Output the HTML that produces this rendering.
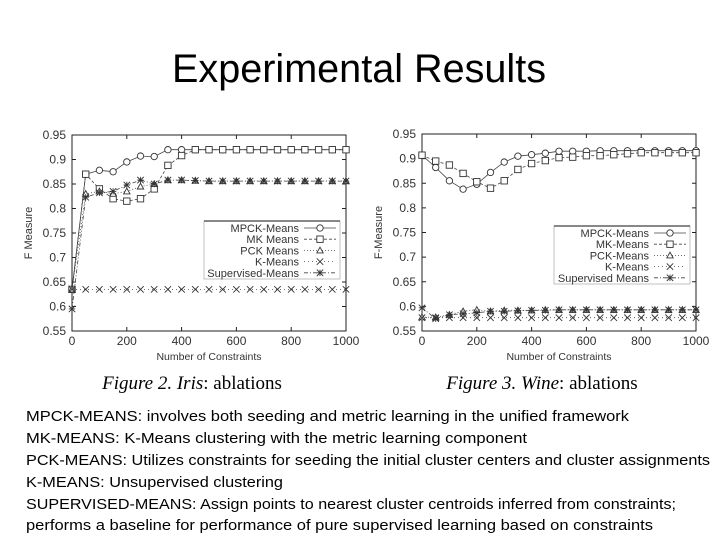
<!DOCTYPE html>
<html><head><meta charset="utf-8"><style>
html,body{margin:0;padding:0;background:#fff;}
svg{display:block;}
</style></head><body>
<svg id="root" width="720" height="540" viewBox="0 0 720 540" xmlns="http://www.w3.org/2000/svg">
<text x="359" y="82" text-anchor="middle" font-family="Liberation Sans, sans-serif" font-size="40" textLength="374" lengthAdjust="spacingAndGlyphs">Experimental Results</text>
<g id="c1"></g>
<g id="c2"></g>
<text x="192" y="389" text-anchor="middle" font-family="Liberation Serif, serif" font-size="19"><tspan font-style="italic">Figure 2. Iris</tspan>: ablations</text>
<text x="542" y="389" text-anchor="middle" font-family="Liberation Serif, serif" font-size="19"><tspan font-style="italic">Figure 3. Wine</tspan>: ablations</text>
<g font-family="Liberation Sans, sans-serif" font-size="15">
<text x="26" y="421" textLength="603" lengthAdjust="spacingAndGlyphs">MPCK-MEANS: involves both seeding and metric learning in the unified framework</text>
<text x="26" y="443" textLength="501" lengthAdjust="spacingAndGlyphs">MK-MEANS: K-Means clustering with the metric learning component</text>
<text x="26" y="465" textLength="684" lengthAdjust="spacingAndGlyphs">PCK-MEANS: Utilizes constraints for seeding the initial cluster centers and cluster assignments</text>
<text x="26" y="487" textLength="257" lengthAdjust="spacingAndGlyphs">K-MEANS:  Unsupervised clustering</text>
<text x="26" y="509" textLength="650" lengthAdjust="spacingAndGlyphs">SUPERVISED-MEANS:  Assign points to nearest cluster centroids inferred from constraints;</text>
<text x="26" y="530" textLength="627" lengthAdjust="spacingAndGlyphs">performs a baseline for performance of pure supervised learning based on constraints</text>
</g>
</svg>
<script>
const xValues = [0,50,100,150,200,250,300,350,400,450,500,550,600,650,700,750,800,850,900,950,1000];
const xTicks = [0,200,400,600,800,1000];
const yTicks = [0.55,0.6,0.65,0.7,0.75,0.8,0.85,0.9,0.95];
const yTickLabels = ["0.55","0.6","0.65","0.7","0.75","0.8","0.85","0.9","0.95"];
const seriesNames = ["MPCK-Means","MK Means","PCK Means","K-Means","Supervised-Means"];
const seriesNamesWine = ["MPCK-Means","MK-Means","PCK-Means","K-Means","Supervised Means"];
const irisMPCK = [0.635,0.87,0.878,0.875,0.895,0.907,0.906,0.92,0.92,0.92,0.92,0.92,0.92,0.92,0.92,0.92,0.92,0.92,0.92,0.92,0.92];
const irisMK = [0.635,0.87,0.84,0.82,0.815,0.82,0.84,0.888,0.908,0.92,0.92,0.92,0.92,0.92,0.92,0.92,0.92,0.92,0.92,0.92,0.92];
const irisPCK = [0.635,0.83,0.835,0.83,0.835,0.845,0.85,0.858,0.858,0.857,0.856,0.856,0.856,0.856,0.856,0.856,0.856,0.856,0.856,0.856,0.856];
const irisK = [0.635,0.635,0.635,0.635,0.635,0.635,0.635,0.635,0.635,0.635,0.635,0.635,0.635,0.635,0.635,0.635,0.635,0.635,0.635,0.635,0.635];
const irisSup = [0.595,0.823,0.832,0.835,0.848,0.858,0.85,0.858,0.858,0.857,0.856,0.856,0.856,0.856,0.856,0.856,0.856,0.856,0.856,0.856,0.856];
const wineMPCK = [0.907,0.882,0.855,0.838,0.848,0.872,0.893,0.905,0.908,0.911,0.915,0.915,0.915,0.916,0.916,0.916,0.916,0.916,0.916,0.916,0.916];
const wineMK = [0.907,0.895,0.887,0.87,0.853,0.84,0.855,0.878,0.89,0.896,0.902,0.903,0.906,0.906,0.908,0.91,0.912,0.912,0.912,0.912,0.912];
const winePCK = [0.578,0.578,0.583,0.59,0.593,0.59,0.592,0.592,0.592,0.593,0.593,0.593,0.593,0.593,0.593,0.593,0.593,0.593,0.593,0.593,0.593];
const wineK = [0.577,0.577,0.577,0.577,0.577,0.577,0.577,0.577,0.577,0.577,0.577,0.577,0.577,0.577,0.577,0.577,0.577,0.577,0.577,0.577,0.577];
const wineSup = [0.597,0.575,0.583,0.585,0.587,0.59,0.59,0.591,0.592,0.592,0.593,0.593,0.593,0.593,0.593,0.593,0.593,0.593,0.593,0.593,0.593];

const NS="http://www.w3.org/2000/svg";
function mk(tag,attrs,parent){const e=document.createElementNS(NS,tag);for(const k in attrs)e.setAttribute(k,attrs[k]);parent.appendChild(e);return e;}
const markers=["circle","square","triangle","x","star"];
const dashes=["","3,2","1,2","1,3","4,2,1,2"];
function marker(type,cx,cy,g){
  const s=3.2;let e;
  if(type==="circle"){e=mk("circle",{cx:cx,cy:cy,r:s,fill:"#fff",stroke:"#333","stroke-width":0.9},g);}
  else if(type==="square"){e=mk("rect",{x:cx-s,y:cy-s,width:2*s,height:2*s,fill:"#fff",stroke:"#333","stroke-width":0.9},g);}
  else if(type==="triangle"){e=mk("path",{d:`M${cx},${cy-s}L${cx+s},${cy+s*0.8}L${cx-s},${cy+s*0.8}Z`,fill:"#fff",stroke:"#333","stroke-width":0.9},g);}
  else if(type==="x"){e=mk("path",{d:`M${cx-s},${cy-s}L${cx+s},${cy+s}M${cx+s},${cy-s}L${cx-s},${cy+s}`,stroke:"#333","stroke-width":0.9,fill:"none"},g);}
  else {e=mk("path",{d:`M${cx-s},${cy-s}L${cx+s},${cy+s}M${cx+s},${cy-s}L${cx-s},${cy+s}M${cx},${cy-s}L${cx},${cy+s}M${cx-s},${cy}L${cx+s},${cy}`,stroke:"#333","stroke-width":0.9,fill:"none"},g);}
  return e;
}
function chart(gid,x0,x1,y0,y1,series,names,legend,ylabel){
  const g=document.getElementById(gid);
  const X=v=>x0+(v-0)/(1000-0)*(x1-x0);
  const Y=v=>y1-(v-0.55)/(0.95-0.55)*(y1-y0);
  const frame=mk("rect",{x:x0,y:y0,width:x1-x0,height:y1-y0,fill:"none",stroke:"#222","stroke-width":1},g);
  
  
  yTicks.forEach((t,i)=>{
    const y=Y(t);
    mk("line",{x1:x0,x2:x0+4,y1:y,y2:y,stroke:"#222"},g);
    mk("line",{x1:x1,x2:x1-4,y1:y,y2:y,stroke:"#222"},g);
    const tx=mk("text",{x:x0-6,y:y+4,"text-anchor":"end","font-family":"Liberation Sans, sans-serif","font-size":12,fill:"#333"},g);
    tx.textContent=yTickLabels[i];
    
    
  });
  xTicks.forEach(t=>{
    const x=X(t);
    mk("line",{x1:x,x2:x,y1:y1,y2:y1-4,stroke:"#222"},g);
    mk("line",{x1:x,x2:x,y1:y0,y2:y0+4,stroke:"#222"},g);
    const tx=mk("text",{x:x,y:y1+14,"text-anchor":"middle","font-family":"Liberation Sans, sans-serif","font-size":12,fill:"#333"},g);
    tx.textContent=String(t);
    
    
  });
  const xl=mk("text",{x:(x0+x1)/2,y:y1+29,"text-anchor":"middle","font-family":"Liberation Sans, sans-serif","font-size":10.5,fill:"#333"},g);
  xl.textContent="Number of Constraints";
  
  
  const yl=mk("text",{x:0,y:0,transform:`translate(${x0-40},${(y0+y1)/2}) rotate(-90)`,"text-anchor":"middle","font-family":"Liberation Sans, sans-serif","font-size":11,fill:"#333"},g);
  yl.textContent=ylabel;
  
  
  series.forEach((vals,si)=>{
    const sg=mk("g",{},g);
    
    
    const d=vals.map((v,i)=>(i?"L":"M")+X(xValues[i]).toFixed(1)+","+Y(v).toFixed(1)).join("");
    const ln=mk("path",{d:d,fill:"none",stroke:"#444","stroke-width":0.8,"stroke-dasharray":dashes[si]},sg);
    
    
    vals.forEach((v,i)=>{
      const m=marker(markers[si],X(xValues[i]),Y(v),sg);
      
      
    });
  });
  const lg=mk("g",{},g);
  
  
  mk("rect",{x:legend[0],y:legend[1],width:136,height:58,fill:"#fff",stroke:"#999","stroke-width":0.6},lg);
  mk("line",{x1:legend[0],x2:legend[0]+136,y1:legend[1],y2:legend[1],stroke:"#111","stroke-width":1},lg);
  names.forEach((n,i)=>{
    const y=legend[1]+7+i*11.2;
    const t=mk("text",{x:legend[0]+95,y:y+4,"text-anchor":"end","font-family":"Liberation Sans, sans-serif","font-size":11,fill:"#333"},lg);
    t.textContent=n;
    
    
    mk("line",{x1:legend[0]+100,x2:legend[0]+132,y1:y,y2:y,stroke:"#444","stroke-width":0.8,"stroke-dasharray":dashes[i]},lg);
    marker(markers[i],legend[0]+116,y,lg);
  });
}
chart("c1",72,346,135,331,[irisMPCK,irisMK,irisPCK,irisK,irisSup],seriesNames,[204,221],"F Measure");
chart("c2",422,696,134,331,[wineMPCK,wineMK,winePCK,wineK,wineSup],seriesNamesWine,[554,226],"F-Measure");
</script>
</body></html>
